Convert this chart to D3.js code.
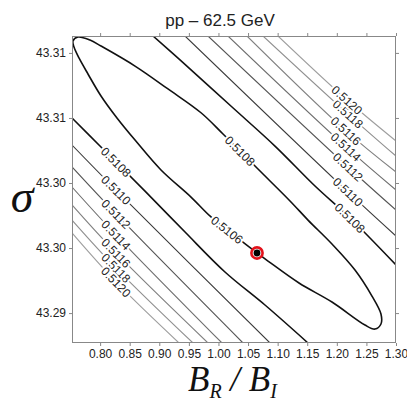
<!DOCTYPE html>
<html>
<head>
<meta charset="utf-8">
<script src="https://cdn.jsdelivr.net/npm/d3@7"></script>
<style>
  body { margin: 0; background: #fff; }
  svg { display: block; }
  .tick text { font-family: "Liberation Sans", Arial, sans-serif; font-size: 12px; fill: #222; }
  .tick line { stroke: #888; }
  .clabel {
    font-family: "Liberation Sans", Arial, sans-serif; font-size: 12px; fill: #222;
    paint-order: stroke; stroke: #fff; stroke-width: 4px; stroke-linejoin: round;
  }
</style>
</head>
<body>
<svg id="chart" width="407" height="405"></svg>
<script>
const xDomain = [0.7525, 1.30];
const yDomain = [43.2927, 43.3163];
const xTicks = [0.80, 0.85, 0.90, 0.95, 1.00, 1.05, 1.10, 1.15, 1.20, 1.25, 1.30];
const yTicks = [43.315, 43.310, 43.305, 43.300, 43.295];
const yTickLabels = ['43.31', '43.31', '43.30', '43.30', '43.29'];

// closed innermost contour (B_R/B_I, sigma)
const innerContour = [
    [0.7542, 43.31592], [0.7626, 43.31622], [0.7829, 43.31599], [0.8015, 43.31553],
    [0.8590, 43.31399], [0.9147, 43.31223], [0.9705, 43.31040], [1.0077, 43.30877],
    [1.0651, 43.30615], [1.1209, 43.30362], [1.1513, 43.30215], [1.1918, 43.30031],
    [1.2307, 43.29831], [1.2594, 43.29631], [1.2746, 43.29493], [1.2746, 43.29416],
    [1.2645, 43.29377], [1.2476, 43.29408], [1.1918, 43.29585], [1.1361, 43.29731],
    [1.0837, 43.29900], [1.0651, 43.29962], [1.0364, 43.30062], [0.9874, 43.30239],
    [0.9536, 43.30392], [0.9029, 43.30600], [0.8590, 43.30830], [0.8285, 43.31000],
    [0.8015, 43.31169], [0.7795, 43.31338], [0.7643, 43.31461], [0.7559, 43.31545]
];
const innerLabels = ['0.5108', '0.5106'];
const innerLabelAt = [[1.0364, 43.30746], [1.0144, 43.30139]];

const left5108 = [
    [0.7525, 43.31000], [0.7998, 43.30784], [0.8269, 43.30661], [0.8759, 43.30438],
    [0.9435, 43.30123], [1.0110, 43.29816], [1.0786, 43.29562], [1.1513, 43.29270]
];
const right5108 = [
    [0.8894, 43.31630], [0.9350, 43.31446], [1.0229, 43.31084], [1.0955, 43.30784],
    [1.1631, 43.30477], [1.2223, 43.30231], [1.3000, 43.29870]
];

const grayLevels = ['0.5110', '0.5112', '0.5114', '0.5116', '0.5118', '0.5120'];
const grayLeft = [
    [[0.7525, 43.30792], [0.8269, 43.30446], [1.0871, 43.29270]],
    [[0.7525, 43.30623], [0.8269, 43.30262], [1.0415, 43.29270]],
    [[0.7525, 43.30469], [0.8269, 43.30100], [1.0060, 43.29270]],
    [[0.7525, 43.30331], [0.8269, 43.29962], [0.9823, 43.29270]],
    [[0.7525, 43.30215], [0.8269, 43.29846], [0.9570, 43.29270]],
    [[0.7525, 43.30116], [0.8269, 43.29739], [0.9333, 43.29270]]
];
const grayRight = [
    [[0.9435, 43.31630], [1.2189, 43.30431], [1.3000, 43.30092]],
    [[0.9823, 43.31630], [1.2189, 43.30623], [1.3000, 43.30292]],
    [[1.0161, 43.31630], [1.2155, 43.30777], [1.3000, 43.30446]],
    [[1.0482, 43.31630], [1.2155, 43.30900], [1.3000, 43.30584]],
    [[1.0753, 43.31630], [1.2189, 43.31030], [1.3000, 43.30707]],
    [[1.1006, 43.31630], [1.2172, 43.31138], [1.3000, 43.30823]]
];
const grayColors = ['#3a3a3a', '#555', '#6e6e6e', '#808080', '#909090', '#9e9e9e'];

const bestFit = [1.0651, 43.29962];

const svg = d3.select('#chart');
const margin = {top: 36, right: 11, bottom: 62, left: 72};
const width = 407 - margin.left - margin.right;
const height = 405 - margin.top - margin.bottom;

const x = d3.scaleLinear().domain(xDomain).range([0, width]);
const y = d3.scaleLinear().domain(yDomain).range([height, 0]);

const plot = svg.append('g')
    .attr('transform', `translate(${margin.left}, ${margin.top})`);

plot.append('clipPath')
    .attr('id', 'clip')
    .append('rect')
        .attr('width', width)
        .attr('height', height);

const lineGen = d3.line()
    .x(d => x(d[0]))
    .y(d => y(d[1]))
    .curve(d3.curveCatmullRom.alpha(0.5));
const closedGen = d3.line()
    .x(d => x(d[0]))
    .y(d => y(d[1]))
    .curve(d3.curveCatmullRomClosed.alpha(0.5));

const contours = plot.append('g').attr('clip-path', 'url(#clip)');

grayLevels.forEach((level, i) => {
    [grayLeft[i], grayRight[i]].forEach(pts => {
        contours.append('path')
            .attr('d', lineGen(pts))
            .attr('fill', 'none')
            .attr('stroke', grayColors[i])
            .attr('stroke-width', 1.1);
    });
});

[left5108, right5108].forEach(pts => {
    contours.append('path')
        .attr('d', lineGen(pts))
        .attr('fill', 'none')
        .attr('stroke', '#111')
        .attr('stroke-width', 1.6);
});

contours.append('path')
    .attr('d', closedGen(innerContour))
    .attr('fill', 'none')
    .attr('stroke', '#111')
    .attr('stroke-width', 1.6);

// angle of the contour at the point nearest to a label
const labelAngle = (pts, at, closed) => {
    const px = pts.map(d => [x(d[0]), y(d[1])]);
    const ax = x(at[0]), ay = y(at[1]);
    const i = d3.minIndex(px, p => (p[0] - ax) ** 2 + (p[1] - ay) ** 2);
    const n = px.length;
    const a = px[closed ? (i - 1 + n) % n : Math.max(i - 1, 0)];
    const b = px[closed ? (i + 1) % n : Math.min(i + 1, n - 1)];
    let dx = b[0] - a[0], dy = b[1] - a[1];
    if (dx < 0) { dx = -dx; dy = -dy; }
    return Math.atan2(dy, dx) * 180 / Math.PI;
};

const labels = plot.append('g');
const addLabel = (text, at, angle) => {
    labels.append('text')
        .attr('class', 'clabel')
        .attr('transform', `translate(${x(at[0])}, ${y(at[1])}) rotate(${angle})`)
        .attr('text-anchor', 'middle')
        .attr('dy', '0.36em')
        .text(text);
};

grayLevels.forEach((level, i) => {
    [grayLeft[i], grayRight[i]].forEach(pts => addLabel(level, pts[1], labelAngle(pts, pts[1], false)));
});
addLabel('0.5108', left5108[2], labelAngle(left5108, left5108[2], false));
addLabel('0.5108', right5108[5], labelAngle(right5108, right5108[5], false));
innerLabels.forEach((text, i) => addLabel(text, innerLabelAt[i], labelAngle(innerContour, innerLabelAt[i], true)));

// best fit marker
plot.append('circle')
    .attr('cx', x(bestFit[0]))
    .attr('cy', y(bestFit[1]))
    .attr('r', 5.6)
    .attr('fill', '#fff')
    .attr('stroke', '#e3121b')
    .attr('stroke-width', 2.6);
plot.append('circle')
    .attr('cx', x(bestFit[0]))
    .attr('cy', y(bestFit[1]))
    .attr('r', 3.4)
    .attr('fill', '#000');

// axes
plot.append('g')
    .attr('transform', `translate(0, ${height})`)
    .call(d3.axisBottom(x).tickValues(xTicks).tickSize(3).tickFormat(d3.format('.2f')))
    .call(g => g.select('.domain').remove());
plot.append('g')
    .call(d3.axisTop(x).tickValues(xTicks).tickSize(3).tickFormat(''))
    .call(g => g.select('.domain').remove());
plot.append('g')
    .call(d3.axisLeft(y).tickValues(yTicks).tickSize(3).tickFormat((d, i) => yTickLabels[i]))
    .call(g => g.select('.domain').remove());
plot.append('g')
    .attr('transform', `translate(${width}, 0)`)
    .call(d3.axisRight(y).tickValues(yTicks).tickSize(3).tickFormat(''))
    .call(g => g.select('.domain').remove());

plot.append('rect')
    .attr('x', 0.5)
    .attr('y', 0.5)
    .attr('width', width - 1)
    .attr('height', height - 1)
    .attr('fill', 'none')
    .attr('stroke', '#888');

// titles
svg.append('text')
    .attr('x', 220)
    .attr('y', 26)
    .attr('text-anchor', 'middle')
    .attr('font-family', '"Liberation Sans", Arial, sans-serif')
    .attr('font-size', 17)
    .attr('fill', '#222')
    .text('pp – 62.5 GeV');

svg.append('text')
    .attr('x', 22)
    .attr('y', 212)
    .attr('text-anchor', 'middle')
    .attr('font-family', '"Liberation Serif", "Times New Roman", serif')
    .attr('font-style', 'italic')
    .attr('font-size', 46)
    .attr('fill', '#111')
    .text('σ');

const xLabel = svg.append('text')
    .attr('x', 188)
    .attr('y', 391)
    .attr('font-family', '"Liberation Serif", "Times New Roman", serif')
    .attr('font-style', 'italic')
    .attr('font-size', 35)
    .attr('fill', '#111');
xLabel.append('tspan').text('B');
xLabel.append('tspan').attr('dy', 7).attr('font-size', 20).text('R');
xLabel.append('tspan').attr('dy', -7).text(' / B');
xLabel.append('tspan').attr('dy', 7).attr('font-size', 20).text('I');
</script>
</body>
</html>
